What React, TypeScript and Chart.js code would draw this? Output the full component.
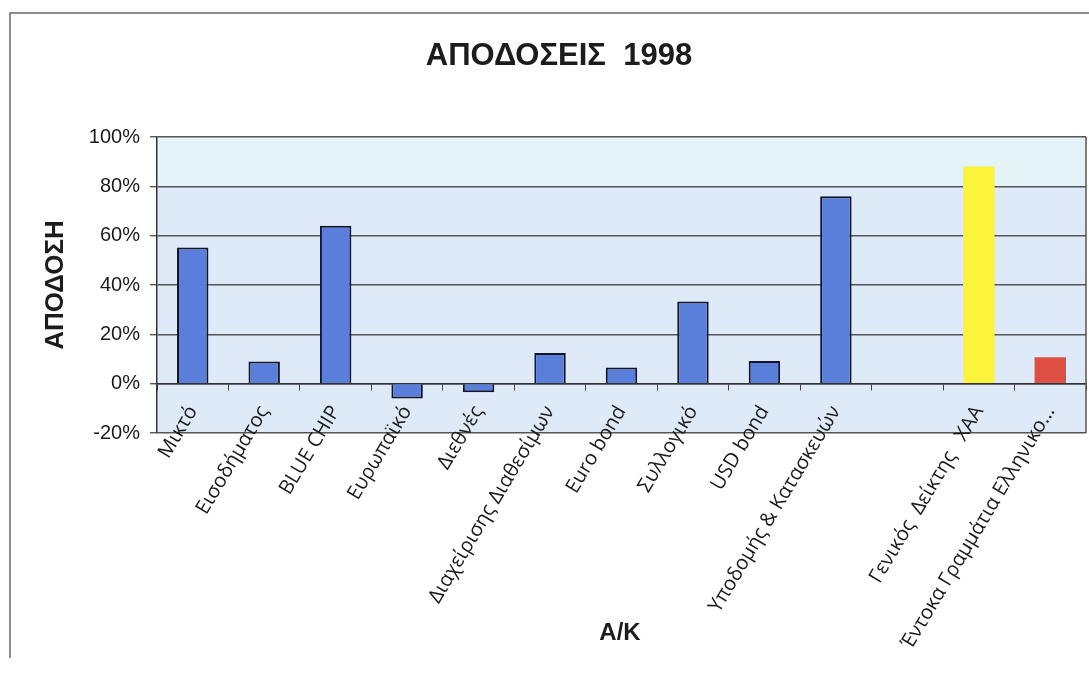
import { useEffect, useRef } from "react";
import { Chart, registerables } from "chart.js";

Chart.register(...registerables);

// Fund returns for 1998, in percent
const categories = [
  "Μικτό",
  "Εισοδήματος",
  "BLUE CHIP",
  "Ευρωπαϊκό",
  "Διεθνές",
  "Διαχείρισης Διαθεσίμων",
  "Euro bond",
  "Συλλογικό",
  "USD bond",
  "Υποδομής & Κατασκευών",
  "",
  "Γενικός  Δείκτης   ΧΑΑ",
  "Έντοκα Γραμμάτια Ελληνικο...",
];
const returns: (number | null)[] = [55.2, 9, 64, -6, -3.5, 12.4, 6.6, 33.3, 9.2, 76, null, 88, 10.7];
const yTicks = [-20, 0, 20, 40, 60, 80, 100];

const titleText = "ΑΠΟΔΟΣΕΙΣ  1998";
const yTitleText = "ΑΠΟΔΟΣΗ";
const xTitleText = "Α/Κ";

const BLUE = "#5a7fdb";
const barColors = categories.map((c, i) =>
  i === 11 ? "#fbf43a" : i === 12 ? "#de4e43" : BLUE
);
const barBorders = categories.map((c, i) => (i >= 11 ? 0 : 2));

const decor = {
  id: "decor",
  beforeDraw(chart: any) {
    const { ctx, chartArea, scales, width, height } = chart;
    ctx.save();
    ctx.fillStyle = "#ffffff";
    ctx.fillRect(0, 0, width, height);
    // plot background
    ctx.fillStyle = "#deeaf7";
    ctx.fillRect(chartArea.left, chartArea.top, chartArea.right - chartArea.left, chartArea.bottom - chartArea.top);
    const y100 = scales.y.getPixelForValue(100);
    const y80 = scales.y.getPixelForValue(80);
    ctx.fillStyle = "#e3f3f8";
    ctx.fillRect(chartArea.left, y100, chartArea.right - chartArea.left, y80 - y100);
    ctx.restore();
  },
  afterDraw(chart: any) {
    const { ctx, chartArea, width, height } = chart;
    ctx.save();
    // plot area right border
    ctx.strokeStyle = "#555";
    ctx.lineWidth = 1.5;
    ctx.beginPath();
    ctx.moveTo(chartArea.right, chartArea.top);
    ctx.lineTo(chartArea.right, chartArea.bottom);
    ctx.stroke();
    // outer frame
    ctx.strokeStyle = "#6a6a6a";
    ctx.lineWidth = 1.5;
    ctx.beginPath();
    ctx.moveTo(width, 13);
    ctx.lineTo(10, 13);
    ctx.lineTo(10, height - 15);
    ctx.stroke();
    // titles
    ctx.fillStyle = "#1c1c1c";
    ctx.textAlign = "center";
    ctx.textBaseline = "middle";
    ctx.font = "bold 31px 'Liberation Sans', Arial, sans-serif";
    ctx.fillText(titleText, 559, 56);
    ctx.font = "bold 24px 'Liberation Sans', Arial, sans-serif";
    ctx.fillText(xTitleText, 620, 633);
    ctx.restore();
  },
};

export default function App() {
  const ref = useRef<HTMLCanvasElement>(null);
  useEffect(() => {
    if (!ref.current) return;
    const chart = new Chart(ref.current, {
      type: "bar",
      data: {
        labels: categories,
        datasets: [
          {
            data: returns,
            backgroundColor: barColors,
            borderColor: "#15152a",
            borderWidth: barBorders,
            barPercentage: 0.44,
            categoryPercentage: 1,
          },
        ],
      },
      options: {
        animation: false,
        responsive: false,
        layout: { padding: { left: 0, right: 3, top: 137, bottom: 240 } },
        plugins: {
          legend: { display: false },
          tooltip: { enabled: false },
          title: { display: false },
        },
        scales: {
          x: {
            position: { y: 0 } as any,
            offset: true,
            grid: {
              drawOnChartArea: false,
              drawTicks: true,
              tickLength: 6,
              color: "#444",
              offset: true,
            },
            border: { display: true, color: "#333", width: 1.5 },
            ticks: {
              autoSkip: false,
              minRotation: 59,
              maxRotation: 59,
              padding: 12,
              color: "#1a1a1a",
              font: { family: "'Open Sans', sans-serif", size: 20 },
            },
          },
          y: {
            position: "left",
            min: -20,
            max: 100,
            afterBuildTicks: (s: any) => {
              s.ticks = yTicks.map((v) => ({ value: v }));
            },
            afterFit: (s: any) => {
              s.width = 157;
            },
            grid: { color: "#555", lineWidth: 1.4, tickLength: 7, drawTicks: true },
            border: { display: true, color: "#333", width: 1.5 },
            ticks: {
              padding: 10,
              color: "#1a1a1a",
              font: { family: "'Liberation Sans', Arial, sans-serif", size: 20 },
              callback: (v: any) => `${v}%`,
            },
            title: {
              display: true,
              text: yTitleText,
              color: "#1c1c1c",
              font: { family: "'Liberation Sans', Arial, sans-serif", size: 26, weight: "bold" },
              padding: { top: 40, bottom: 0 },
            },
          },
        },
      },
      plugins: [decor],
    });
    return () => chart.destroy();
  }, []);
  return (
    <div style={{ position: "fixed", left: 0, top: 0, width: 1089, height: 673, background: "#fff" }}>
      <canvas ref={ref} width={1089} height={673} />
    </div>
  );
}
